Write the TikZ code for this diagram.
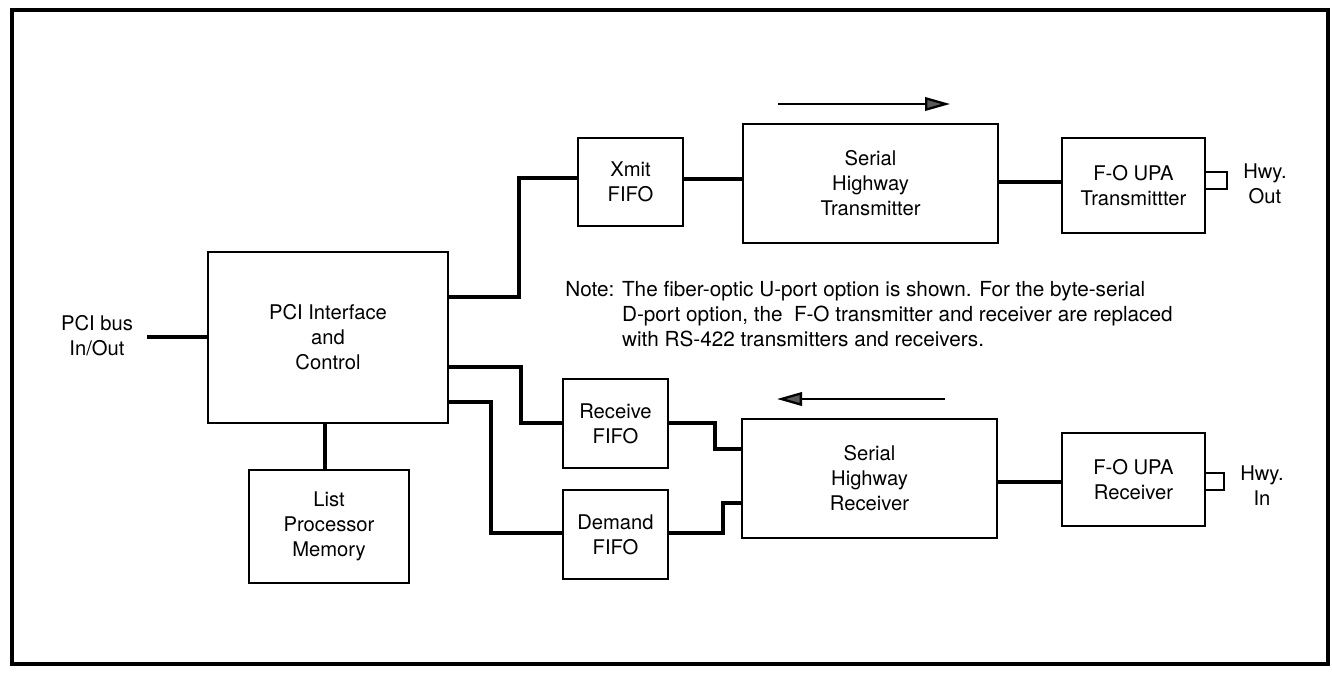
\documentclass[tikz,border=0pt]{standalone}
\usepackage{fontspec}
\setmainfont{TeX Gyre Heros}
\usetikzlibrary{arrows.meta}
\newcommand{\blkfont}{\fontsize{11.5}{14.2}\selectfont}
\newcommand{\notefont}{\fontsize{11.8}{14.2}\selectfont}
\tikzset{
  blk/.style={draw, line width=1.1pt, align=center, inner sep=0pt, font=\blkfont},
  fifo/.style={blk, minimum width=2.1cm, minimum height=1.78cm},
  hwy/.style={blk, minimum width=5.1cm, minimum height=2.38cm},
  upa/.style={blk, minimum width=2.86cm, minimum height=1.9cm},
  lbl/.style={align=center, inner sep=0pt, font=\blkfont},
  bus/.style={line width=1.8pt},
  flow/.style={line width=1.3pt, -{Triangle[length=0.5cm,width=0.27cm,fill=gray!70!black]}},
}
\begin{document}
\begin{tikzpicture}[x=0.02cm, y=-0.02cm]
\useasboundingbox (0,0) rectangle (1332,673);
\draw[line width=2pt] (12,10) rectangle (1328,664);

% blocks
\node[blk, minimum width=4.8cm, minimum height=3.42cm] (pci) at (328,337.5) {PCI Interface\\and\\Control};
\node[blk, minimum width=3.2cm, minimum height=2.26cm] (lpm) at (329,526.5) {List\\Processor\\Memory};
\node[fifo, minimum height=1.76cm] (xmit) at (630.5,182) {Xmit\\FIFO};
\node[fifo] (rcvf) at (615.5,423.5) {Receive\\FIFO};
\node[fifo] (dmdf) at (615.5,534.5) {Demand\\FIFO};
\node[hwy] (sht) at (870.5,183.5) {Serial\\Highway\\Transmitter};
\node[hwy] (shr) at (869.5,478.5) {Serial\\Highway\\Receiver};
\node[upa] (fotx) at (1133.5,185.5) {F-O UPA\\Transmittter};
\node[upa, minimum height=1.86cm] (forx) at (1133.5,479.5) {F-O UPA\\Receiver};

% labels
\node[lbl] (busio) at (97,336) {PCI bus\\In/Out};
\node[lbl] (hwyout) at (1265,184) {Hwy.\\Out};
\node[lbl] (hwyin) at (1262,486) {Hwy.\\In};
\node[font=\notefont, anchor=north west, inner sep=0pt] (note) at (565,279)
  {\begin{tabular}{@{}l@{ }l@{}}
   Note: & The fiber-optic U-port option is shown. For the byte-serial\\
         & D-port option, the \ F-O transmitter and receiver are replaced\\
         & with RS-422 transmitters and receivers.
   \end{tabular}};

% connections
\coordinate (busend) at (147,337);
\draw[bus] (busend) -- (pci.west |- busend);
\draw[bus] (pci.south -| 325,0) -- (lpm.north -| 325,0);
\draw[bus] (pci.east |- 0,297) -| (519,178) -- (xmit.west |- 0,178);
\draw[bus] (xmit.east |- 0,179) -- (sht.west |- 0,179);
\draw[bus] (sht.east |- 0,182) -- (fotx.west |- 0,182);
\draw[bus] (pci.east |- 0,367) -| (521,423) -- (rcvf.west |- 0,423);
\draw[bus] (pci.east |- 0,402) -| (491,533) -- (dmdf.west |- 0,533);
\draw[bus] (rcvf.east |- 0,423) -| (715,449) -- (shr.west |- 0,449);
\draw[bus] (dmdf.east |- 0,533) -| (723,503) -- (shr.west |- 0,503);
\draw[bus] (shr.east |- 0,482) -- (forx.west |- 0,482);

% highway ports
\draw[line width=1.3pt] (fotx.east |- 0,172) -- (1227,172) -- (1227,189) -- (fotx.east |- 0,189);
\draw[line width=1.3pt] (forx.east |- 0,473) -- (1224,473) -- (1224,490) -- (forx.east |- 0,490);

% direction arrows
\coordinate (txa) at (778,104);
\coordinate (txb) at (950,104);
\coordinate (rxa) at (945,399);
\coordinate (rxb) at (777,399);
\draw[flow] (txa) -- (txb);
\draw[flow] (rxa) -- (rxb);
\end{tikzpicture}
\end{document}
